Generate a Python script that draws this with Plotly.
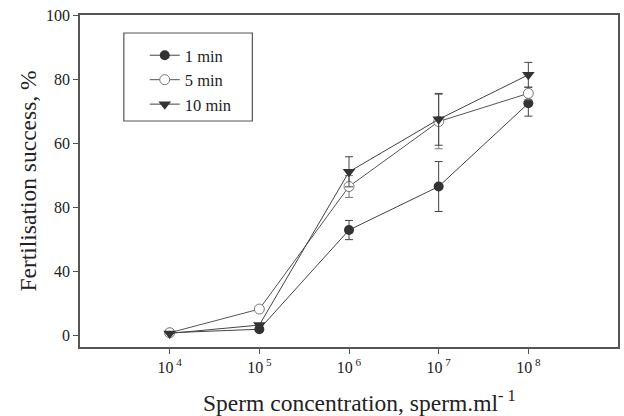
import plotly.graph_objects as go

conc = [1e4, 1e5, 1e6, 1e7, 1e8]
series_names = ["1 min", "5 min", "10 min"]
s1 = [0.7, 1.8, 32.8, 46.4, 72.4]
e1 = [0, 0, 3.0, 7.8, 4.0]
s5 = [0.7, 8.1, 46.4, 66.7, 75.5]
e5 = [0, 0, 3.4, 8.5, 2.0]
s10 = [0.5, 3.1, 51.0, 67.4, 81.3]
e10 = [0, 0, 4.7, 8.1, 3.9]

y_tickvals = [0, 20, 40, 60, 80, 100]
y_ticktext = ["0", "40", "80", "60", "80", "100"]
x_tickvals = [1e4, 1e5, 1e6, 1e7, 1e8]
x_ticktext = ["10<sup> 4</sup>", "10<sup> 5</sup>", "10<sup> 6</sup>", "10<sup> 7</sup>", "10<sup> 8</sup>"]
x_title = "Sperm concentration, sperm.ml<sup>- 1</sup>"
y_title = "Fertilisation success, %"

FONT = "Liberation Serif"
dark = "#222222"
axc = "#555555"

fig = go.Figure()
markers = [
    dict(symbol="circle", size=10, color="#333333"),
    dict(symbol="circle", size=10, color="white", line=dict(width=1, color="#777777")),
    dict(symbol="triangle-down", size=11, color="#333333"),
]
line_cols = ["#444444", "#555555", "#444444"]
err_cols = ["#444444", "#777777", "#444444"]
for name, ys, es, mk, lc, ec in zip(series_names, [s1, s5, s10], [e1, e5, e10], markers, line_cols, err_cols):
    fig.add_trace(go.Scatter(
        x=conc, y=ys, name=name, mode="lines+markers",
        line=dict(color=lc, width=1),
        marker=mk,
        error_y=dict(type="data", array=es, visible=True, color=ec, thickness=1, width=4),
    ))

# legend frame
fig.add_shape(type="rect", xref="paper", yref="paper",
              x0=(124 - 80) / 540, x1=(253 - 80) / 540,
              y0=(347 - 121) / 332, y1=(347 - 33) / 332,
              line=dict(color=axc, width=1.2), fillcolor="rgba(0,0,0,0)", layer="below")

# x-axis title placed as annotation (slightly right of centre, as in reference)
fig.add_annotation(text=x_title, xref="paper", yref="paper",
                   x=(361 - 80) / 540, y=(347 - 401) / 332,
                   xanchor="center", yanchor="middle", showarrow=False,
                   font=dict(family=FONT, size=23.5, color=dark))

fig.update_layout(
    width=624, height=416,
    margin=dict(l=80, r=4, t=15, b=69),
    paper_bgcolor="white", plot_bgcolor="white",
    font=dict(family=FONT, color=dark),
    showlegend=True,
    legend=dict(
        x=(145 - 80) / 540, y=(347 - 38) / 332, xanchor="left", yanchor="top",
        borderwidth=0, bgcolor="rgba(0,0,0,0)",
        font=dict(family=FONT, size=16.5, color=dark),
        tracegroupgap=0,
    ),
    xaxis=dict(
        type="log", range=[3, 9],
        tickvals=x_tickvals, ticktext=x_ticktext,
        ticks="outside", ticklen=5, tickcolor=axc,
        showline=True, linecolor=axc, linewidth=1.5, mirror=True,
        showgrid=False, zeroline=False,
        tickfont=dict(family=FONT, size=16, color=dark),
    ),
    yaxis=dict(
        range=[-3.75, 100],
        tickvals=y_tickvals, ticktext=y_ticktext,
        ticks="outside", ticklen=5, tickcolor=axc,
        showline=True, linecolor=axc, linewidth=1.5, mirror=True,
        showgrid=False, zeroline=False,
        tickfont=dict(family=FONT, size=16, color=dark),
        title=dict(text=y_title,
                   font=dict(family=FONT, size=23.5, color=dark), standoff=3),
    ),
)

fig.write_html("out.html")
